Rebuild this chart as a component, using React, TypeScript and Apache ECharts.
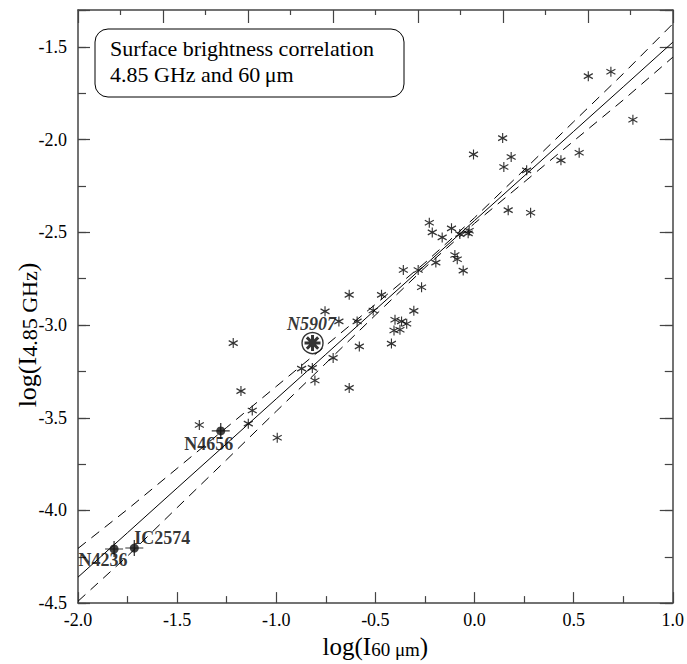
import React, { useEffect, useRef } from "react";
import * as echarts from "echarts";

// Galaxies (asterisks): log I60um, log I4.85GHz
const starX = [0.574, 0.688, 0.799, 0.142, -0.005, 0.185, 0.148, 0.263, 0.528, 0.436, 0.17, 0.283,
  -0.228, -0.213, -0.116, -0.163, -0.074, -0.027, -0.032, -0.099, -0.087, -0.057, -0.195, -0.359,
  -0.284, -0.267, -0.469, -0.306, -0.401, -0.368, -0.342, -0.406, -0.376, -0.632, -0.754, -0.684,
  -0.592, -0.511, -0.419, -0.581, -0.713, -0.872, -0.818, -0.805, -0.632, -1.217, -1.178, -1.121,
  -1.141, -0.995, -1.388];
const starY = [-1.657, -1.633, -1.892, -1.991, -2.079, -2.093, -2.147, -2.165, -2.07, -2.111, -2.38, -2.394,
  -2.448, -2.5, -2.478, -2.527, -2.509, -2.491, -2.505, -2.622, -2.645, -2.706, -2.663, -2.703,
  -2.703, -2.796, -2.837, -2.923, -2.971, -2.98, -2.993, -3.029, -3.025, -2.837, -2.926, -2.98,
  -2.98, -2.921, -3.1, -3.115, -3.177, -3.235, -3.231, -3.299, -3.339, -3.097, -3.356, -3.461,
  -3.532, -3.608, -3.539];

// Labelled galaxies
const specialNames = ["N5907", "N4656", "IC2574", "N4236"];
const specialX = [-0.817, -1.28, -1.716, -1.818];
const specialY = [-3.097, -3.571, -4.203, -4.208];

// Fit line and its band
const fitX = [-2, -1.75, -1.5, -1.25, -1, -0.75, -0.5, -0.25, 0, 0.25, 0.5, 0.75, 1];
const fitY = [-4.36, -4.12, -3.879, -3.639, -3.398, -3.158, -2.917, -2.677, -2.436, -2.196, -1.955, -1.715, -1.474];
const upperY = [-4.205, -3.994, -3.773, -3.552, -3.331, -3.11, -2.888, -2.664, -2.421, -2.163, -1.903, -1.644, -1.375];
const lowerY = [-4.49, -4.246, -3.985, -3.726, -3.465, -3.206, -2.946, -2.69, -2.451, -2.229, -2.007, -1.786, -1.555];

const xTicks = [-2, -1.5, -1, -0.5, 0, 0.5, 1];
const yTicks = [-4.5, -4, -3.5, -3, -2.5, -2, -1.5];

const FONT = "Liberation Serif";
const AST = "path://M0,-5L0,5M-4.33,-2.5L4.33,2.5M-4.33,2.5L4.33,-2.5";
const AST8 = "path://M0,-5L0,5M-5,0L5,0M-3.54,-3.54L3.54,3.54M-3.54,3.54L3.54,-3.54";
const CROSS = "path://M0,-1L0,1M-1,0L1,0";

const fmt = (v: number, ticks: number[]) =>
  ticks.some((t) => Math.abs(t - v) < 1e-6) ? v.toFixed(1) : "";

export default function App() {
  const ref = useRef<HTMLDivElement>(null);
  useEffect(() => {
    const chart = echarts.init(ref.current!, null, { renderer: "svg" });
    const axisLine = { show: true, onZero: false, lineStyle: { color: "#444", width: 1.5 } };
    const noLine = { show: false, onZero: false };
    const tickStyle = { color: "#444", width: 1.2 };
    const grid = { left: 78, right: 14, top: 10, bottom: 58 };
    const yBase = { type: "value", min: -4.5, max: -1.3, splitLine: { show: false } };
    const labelStyle = { fontFamily: FONT, fontSize: 18, color: "#000" };
    const line = (ys: number[], dashed: boolean) => ({
      type: "line",
      data: fitX.map((x, i) => [x, ys[i]]),
      symbol: "none",
      silent: true,
      lineStyle: { color: "#000", width: 1, type: dashed ? [10, 7] : "solid" },
      z: 1,
    });
    const labelOffsets = [[-1, -19], [-12, 13], [28, -10], [-11, 11]];
    const labelItalic = [true, false, false, false];
    const xRich = {
      a: { fontFamily: FONT, fontSize: 25, color: "#000", verticalAlign: "bottom" },
      b: { fontFamily: FONT, fontSize: 19, color: "#000", verticalAlign: "bottom" },
    };
    const yRich = {
      a: { fontFamily: FONT, fontSize: 26, color: "#000", verticalAlign: "bottom" },
      c: { fontFamily: FONT, fontSize: 22, color: "#000", verticalAlign: "bottom" },
    };
    chart.setOption({
      animation: false,
      grid,
      xAxis: [
        {
          type: "value", min: -2, max: 1, interval: 0.5, position: "bottom",
          axisLine, splitLine: { show: false },
          axisTick: { inside: true, length: 11, lineStyle: tickStyle },
          minorTick: { show: true, splitNumber: 2, length: 7, lineStyle: tickStyle },
          axisLabel: { ...labelStyle, margin: 8, formatter: (v: number) => fmt(v, xTicks) },
          name: "{a|log(I}{b|60 μm}{a|)}",
          nameLocation: "middle",
          nameGap: 23,
          nameTextStyle: { rich: xRich },
        },
        {
          type: "value", min: 0, max: 14, interval: 2, position: "top",
          axisLine, splitLine: { show: false },
          axisTick: { inside: true, length: 13, lineStyle: tickStyle },
          minorTick: { show: true, splitNumber: 2, length: 5, lineStyle: tickStyle },
          axisLabel: { show: false },
        },
      ],
      yAxis: [
        {
          ...yBase, interval: 0.5, position: "left", axisLine,
          axisTick: { inside: true, length: 12, lineStyle: tickStyle },
          axisLabel: { ...labelStyle, margin: 11, formatter: (v: number) => fmt(v, yTicks) },
        },
        {
          ...yBase, interval: 0.25, position: "left", axisLine: noLine,
          axisTick: { inside: true, length: 8, lineStyle: tickStyle },
          axisLabel: { show: false },
        },
        {
          ...yBase, interval: 0.5, position: "right", axisLine,
          axisTick: { inside: true, length: 13, lineStyle: tickStyle },
          axisLabel: { show: false },
        },
        {
          ...yBase, interval: 0.25, position: "right", axisLine: noLine,
          axisTick: { inside: true, length: 8, lineStyle: tickStyle },
          axisLabel: { show: false },
        },
      ],
      series: [
        line(fitY, false),
        line(upperY, true),
        line(lowerY, true),
        {
          type: "scatter",
          data: starX.map((x, i) => [x, starY[i]]),
          symbol: AST,
          symbolSize: [9, 10],
          silent: true,
          itemStyle: { color: "#000", borderColor: "#000", borderWidth: 1.2 },
          z: 3,
        },
        // N5907 open circle + bold star
        {
          type: "scatter",
          data: [[specialX[0], specialY[0]]],
          symbol: "circle",
          symbolSize: 21,
          silent: true,
          itemStyle: { color: "#fff", borderColor: "#000", borderWidth: 1.4 },
          z: 4,
        },
        {
          type: "scatter",
          data: [[specialX[0], specialY[0]]],
          symbol: AST8,
          symbolSize: 16,
          silent: true,
          itemStyle: { color: "#000", borderColor: "#000", borderWidth: 3 },
          z: 5,
        },
        // error crosses for filled points
        {
          type: "scatter",
          data: specialX.slice(1).map((x, i) => [x, specialY[i + 1]]),
          symbol: CROSS,
          symbolSize: [18, 16],
          silent: true,
          itemStyle: { color: "#000", borderColor: "#000", borderWidth: 1.2 },
          z: 4,
        },
        {
          type: "scatter",
          data: specialX.slice(1).map((x, i) => [x, specialY[i + 1]]),
          symbol: "circle",
          symbolSize: 9,
          silent: true,
          itemStyle: { color: "#111" },
          z: 5,
        },
        // labels
        {
          type: "scatter",
          data: specialX.map((x, i) => ({
            value: [x, specialY[i]],
            label: {
              show: true,
              position: "inside",
              offset: labelOffsets[i],
              formatter: specialNames[i],
              fontFamily: FONT,
              fontSize: 18,
              fontWeight: "bold",
              fontStyle: labelItalic[i] ? "italic" : "normal",
              color: "#000",
            },
          })),
          symbolSize: 0,
          silent: true,
          z: 6,
        },
      ],
      graphic: [
        {
          type: "text",
          x: 27, y: 335,
          rotation: Math.PI / 2,
          style: {
            text: "{a|log(I}{c|4.85 GHz}{a|)}",
            rich: yRich,
            align: "center",
            verticalAlign: "middle",
          },
          z: 11,
        },
        {
          type: "rect",
          shape: { x: 95, y: 29, width: 309, height: 68, r: 13 },
          style: { fill: "#fff", stroke: "#000", lineWidth: 1 },
          z: 10,
        },
        {
          type: "text",
          x: 110, y: 48,
          style: { text: "Surface brightness correlation", font: `22px '${FONT}'`, fill: "#000", verticalAlign: "middle" },
          z: 11,
        },
        {
          type: "text",
          x: 110, y: 74,
          style: { text: "4.85 GHz and 60\u2009μm", font: `22px '${FONT}'`, fill: "#000", verticalAlign: "middle" },
          z: 11,
        },
      ],
    });
    return () => chart.dispose();
  }, []);
  return (
    <div
      ref={ref}
      style={{ position: "fixed", left: 0, top: 0, width: 687, height: 664, background: "#fff" }}
    />
  );
}
